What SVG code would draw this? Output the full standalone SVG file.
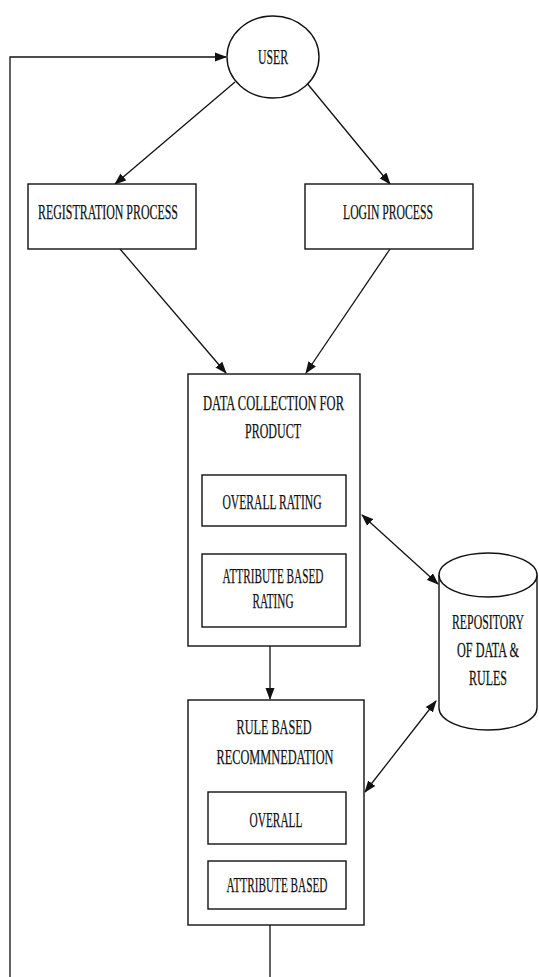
<svg xmlns="http://www.w3.org/2000/svg" width="539" height="977" viewBox="0 0 539 977">
<style>
.s{fill:#fff;stroke:#111;stroke-width:1.4}
.c{fill:none;stroke:#111;stroke-width:1.3}
.t{font-family:"Liberation Serif","Times New Roman",serif;font-size:21px;fill:#111;text-anchor:middle;stroke:#111;stroke-width:0.25}
</style>
<defs>
<marker id="a" markerUnits="userSpaceOnUse" markerWidth="12" markerHeight="10" refX="11" refY="5" orient="auto-start-reverse" viewBox="0 0 12 10">
<path d="M0,0.5 L12,5 L0,9.5 z" fill="#111"/>
</marker>
</defs>
<rect width="539" height="977" fill="#fff"/>
<g id="connectors">
<polyline class="c" points="10,977 10,57 226,57" marker-end="url(#a)"/>
<line class="c" x1="235" y1="82" x2="115" y2="184" marker-end="url(#a)"/>
<line class="c" x1="306" y1="82" x2="390" y2="184" marker-end="url(#a)"/>
<line class="c" x1="120" y1="249" x2="226" y2="373" marker-end="url(#a)"/>
<line class="c" x1="390" y1="249" x2="306" y2="373" marker-end="url(#a)"/>
<line class="c" x1="362" y1="515" x2="438" y2="584" marker-start="url(#a)" marker-end="url(#a)"/>
<line class="c" x1="270" y1="646" x2="270" y2="699" marker-end="url(#a)"/>
<line class="c" x1="436" y1="701" x2="365" y2="792" marker-start="url(#a)" marker-end="url(#a)"/>
<line class="c" x1="270" y1="925" x2="270" y2="977"/>
</g>
<g id="user">
<ellipse class="s" cx="273" cy="57" rx="46" ry="41"/>
<text class="t" x="273" y="64" textLength="30" lengthAdjust="spacingAndGlyphs">USER</text>
</g>
<g id="registration">
<rect class="s" x="28" y="184" width="168" height="65"/>
<text class="t" x="108" y="219" textLength="140" lengthAdjust="spacingAndGlyphs">REGISTRATION PROCESS</text>
</g>
<g id="login">
<rect class="s" x="305" y="184" width="168" height="65"/>
<text class="t" x="388" y="219" textLength="90" lengthAdjust="spacingAndGlyphs">LOGIN PROCESS</text>
</g>
<g id="data-collection">
<rect class="s" x="188" y="374" width="172" height="272"/>
<text class="t" x="273.5" y="410" textLength="141" lengthAdjust="spacingAndGlyphs">DATA COLLECTION FOR</text>
<text class="t" x="273" y="438" textLength="56" lengthAdjust="spacingAndGlyphs">PRODUCT</text>
<rect class="s" x="202" y="475" width="144" height="51"/>
<text class="t" x="272" y="509" textLength="99" lengthAdjust="spacingAndGlyphs">OVERALL RATING</text>
<rect class="s" x="202" y="554" width="144" height="73"/>
<text class="t" x="273" y="583" textLength="101" lengthAdjust="spacingAndGlyphs">ATTRIBUTE BASED</text>
<text class="t" x="273" y="608" textLength="41" lengthAdjust="spacingAndGlyphs">RATING</text>
</g>
<g id="repository">
<path class="s" d="M439,575 L439,708 A49,22 0 0 0 537,708 L537,575"/>
<ellipse class="s" cx="488" cy="575" rx="49" ry="22"/>
<text class="t" transform="translate(488,629) scale(0.564,1)">REPOSITORY</text>
<text class="t" transform="translate(488,657) scale(0.58,1)">OF DATA &amp;</text>
<text class="t" transform="translate(488,685) scale(0.571,1)">RULES</text>
</g>
<g id="rule-based">
<rect class="s" x="188" y="700" width="176" height="225"/>
<text class="t" x="274" y="734" textLength="75" lengthAdjust="spacingAndGlyphs">RULE BASED</text>
<text class="t" x="275" y="764" textLength="117" lengthAdjust="spacingAndGlyphs">RECOMMNEDATION</text>
<rect class="s" x="208" y="792" width="138" height="52"/>
<text class="t" x="276" y="827" textLength="53" lengthAdjust="spacingAndGlyphs">OVERALL</text>
<rect class="s" x="208" y="861" width="138" height="48"/>
<text class="t" x="277" y="892" textLength="101" lengthAdjust="spacingAndGlyphs">ATTRIBUTE BASED</text>
</g>
</svg>
